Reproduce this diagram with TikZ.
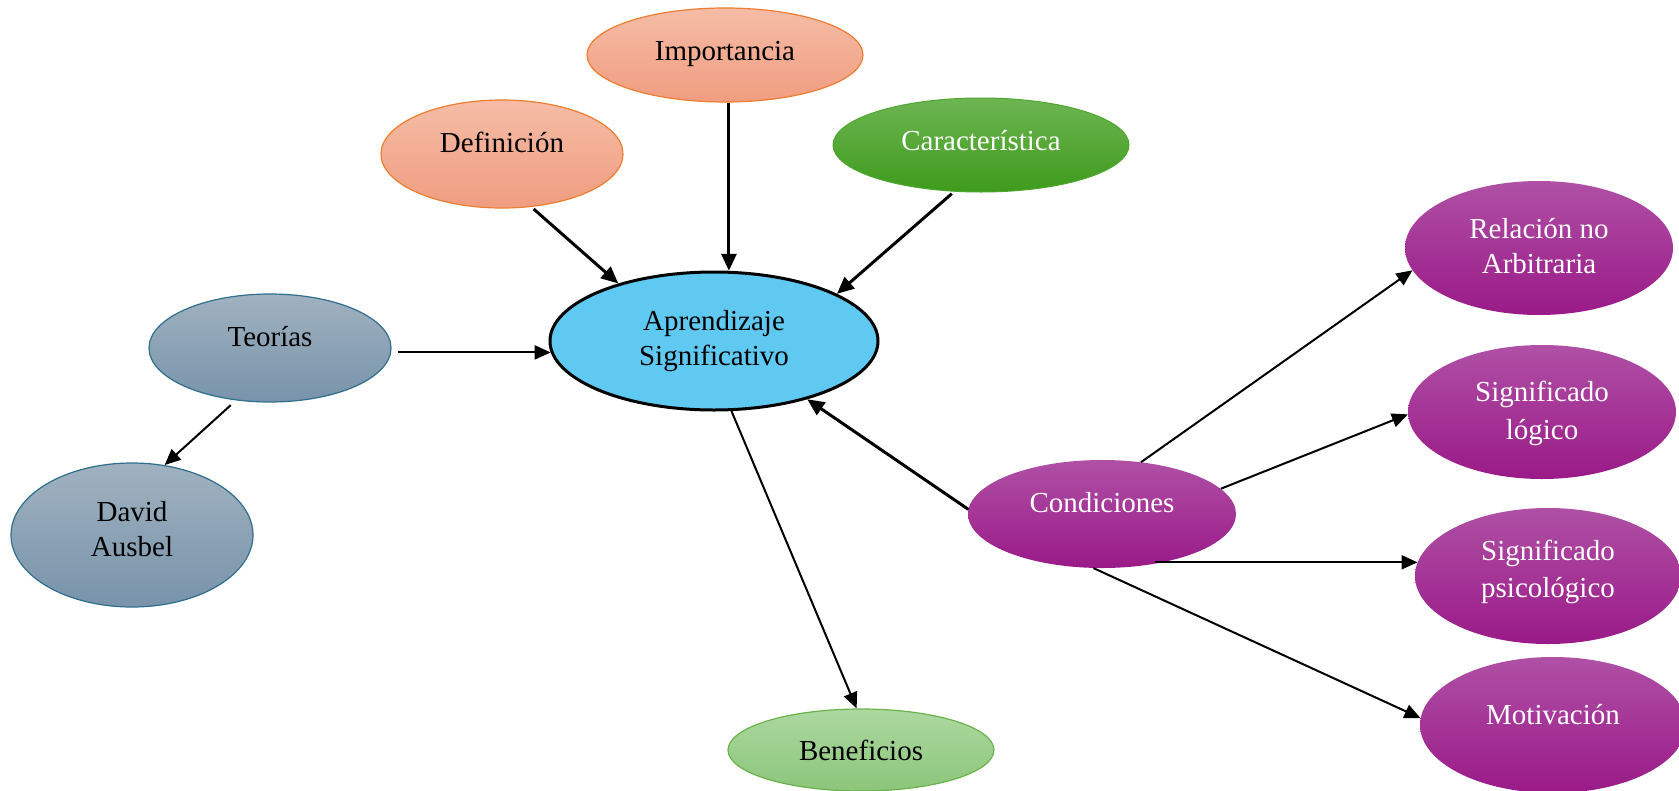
\documentclass[tikz,border=0pt]{standalone}
\usepackage{fontspec}
\setmainfont{Liberation Serif}
\usetikzlibrary{arrows.meta,shapes.geometric}
\definecolor{salTop}{HTML}{F5BCA6}
\definecolor{salBot}{HTML}{F09D80}
\definecolor{salLine}{HTML}{ED7D31}
\definecolor{grTop}{HTML}{6DB552}
\definecolor{grBot}{HTML}{3E9B1C}
\definecolor{grLine}{HTML}{4EA72E}
\definecolor{apBlue}{HTML}{5FC9F2}
\definecolor{gyTop}{HTML}{A0B2C0}
\definecolor{gyBot}{HTML}{7893AA}
\definecolor{gyLine}{HTML}{2F6E8E}
\definecolor{lgTop}{HTML}{ACD8A0}
\definecolor{lgBot}{HTML}{8CC67A}
\definecolor{lgLine}{HTML}{6CB24C}
\definecolor{puTop}{HTML}{AF50A5}
\definecolor{puBot}{HTML}{9A1A88}
\newcommand{\lift}[2]{\raisebox{#1}[\height][\depth]{#2}}
\tikzset{
  bubble/.style={ellipse,inner sep=0pt,align=center,font=\fontsize{29}{35}\selectfont},
  salmon/.style={bubble,draw=salLine,line width=1.2pt,top color=salTop,bottom color=salBot},
  darkgreen/.style={bubble,draw=grLine,line width=1pt,top color=grTop,bottom color=grBot,text=white},
  central/.style={bubble,draw=black,line width=3pt,fill=apBlue},
  grayblue/.style={bubble,draw=gyLine,line width=1.2pt,top color=gyTop,bottom color=gyBot},
  lightgreen/.style={bubble,draw=lgLine,line width=1.2pt,top color=lgTop,bottom color=lgBot},
  purple/.style={bubble,draw=none,top color=puTop,bottom color=puBot,text=white},
  thickarrow/.style={line width=3pt,-{Triangle[length=17pt,width=15pt]}},
  thinarrow/.style={line width=2pt,-{Triangle[length=16pt,width=14pt]}},
}
\begin{document}
\begin{tikzpicture}[x=1pt,y=-1pt]
\useasboundingbox (0,0) rectangle (1679,790);
\fill[white] (0,0) rectangle (1679,790);
% nodes
\node[salmon,minimum width=276pt,minimum height=94pt] (imp) at (725,55) {\lift{1pt}{Importancia}};
\node[salmon,minimum width=242pt,minimum height=108pt] (def) at (502,154) {\lift{12pt}{Definición}};
\node[darkgreen,minimum width=296pt,minimum height=94pt] (car) at (981,145) {\lift{4pt}{Característica}};
\node[central,minimum width=328pt,minimum height=138pt] (apr) at (714,341) {Aprendizaje\\Significativo};
\node[grayblue,minimum width=242pt,minimum height=108pt] (teo) at (270,348) {\lift{11pt}{Teorías}};
\node[grayblue,minimum width=242pt,minimum height=144pt] (dav) at (132,535) {\lift{6pt}{David}\\\lift{6pt}{Ausbel}};
\node[lightgreen,minimum width=266pt,minimum height=82pt] (ben) at (861,750) {Beneficios};
\node[purple,minimum width=268pt,minimum height=108pt] (con) at (1102,514) {\lift{11pt}{Condiciones}};
\node[purple,minimum width=268pt,minimum height=134pt] (rel) at (1539,248) {\lift{2pt}{Relación no}\\\lift{2pt}{Arbitraria}};
\node[purple,minimum width=268pt,minimum height=134pt] (slo) at (1542,412) {Significado\\\lift{-3pt}{lógico}};
\node[purple,minimum width=266pt,minimum height=136pt] (sps) at (1548,576) {\lift{5pt}{Significado}\\\lift{3pt}{psicológico}};
\node[purple,minimum width=266pt,minimum height=136pt] (mot) at (1553,725) {\lift{10pt}{Motivación}};
% connectors
\draw[thickarrow,shorten <=3pt] (def.299) -- (apr.149);
\draw[thickarrow] (apr.78 |- imp.south) -- (apr.78);
\draw[thickarrow,shorten <=3pt] (car.240) -- (apr.21);
\draw[thinarrow,shorten <=6pt] (teo.east |- apr.184) -- (apr.184);
\draw[thinarrow,shorten <=7pt] (teo.237) -- (dav.65);
\draw[thinarrow] (apr.284) -- (ben.96);
\draw[thickarrow] (con.178) -- (apr.328);
\draw[thinarrow] (con.53) -- (rel.190);
\draw[thinarrow] (con.12) -- (slo.181);
\draw[thinarrow] (sps.174 -| con.317) -- (sps.174);
\draw[thinarrow] (con.261) -- (mot.177);
\end{tikzpicture}
\end{document}
